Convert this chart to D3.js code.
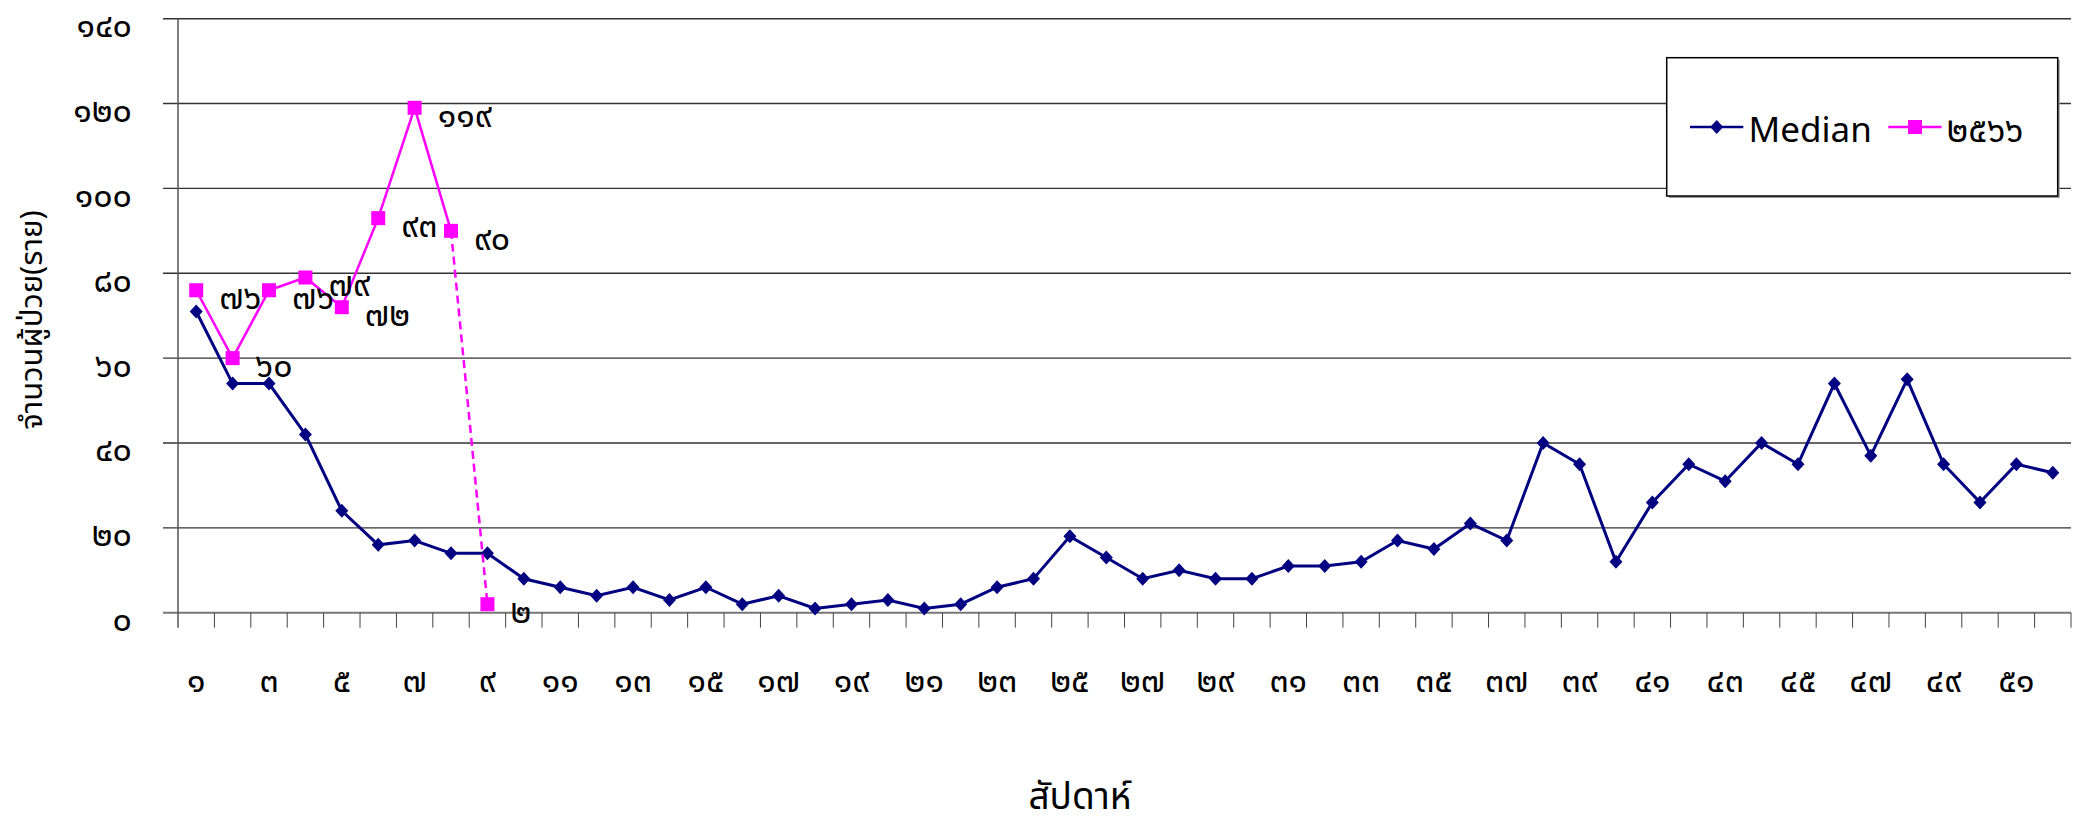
<!DOCTYPE html>
<html>
<head>
<meta charset="utf-8">
<script src="https://cdn.jsdelivr.net/npm/d3@7"></script>
<style>
    body { margin: 0; background: #fff; }
    text { font-family: "Noto Sans Thai", "Noto Sans", "DejaVu Sans", sans-serif; fill: #000; }
</style>
</head>
<body>
<script>
var weeks = [1, 2, 3, 4, 5, 6, 7, 8, 9, 10, 11, 12, 13, 14, 15, 16, 17, 18, 19, 20,
             21, 22, 23, 24, 25, 26, 27, 28, 29, 30, 31, 32, 33, 34, 35, 36, 37, 38, 39, 40,
             41, 42, 43, 44, 45, 46, 47, 48, 49, 50, 51, 52];

var median = [71, 54, 54, 42, 24, 16, 17, 14, 14, 8, 6, 4, 6, 3, 6, 2, 4, 1, 2, 3,
              1, 2, 6, 8, 18, 13, 8, 10, 8, 8, 11, 11, 12, 17, 15, 21, 17, 40, 35, 12,
              26, 35, 31, 40, 35, 54, 37, 55, 35, 26, 35, 33];

var cases2566 = [76, 60, 76, 79, 72, 93, 119, 90, 2];

var yTicks = [0, 20, 40, 60, 80, 100, 120, 140];
var xLabelWeeks = [1, 3, 5, 7, 9, 11, 13, 15, 17, 19, 21, 23, 25, 27, 29, 31, 33, 35, 37, 39, 41, 43, 45, 47, 49, 51];

var seriesNames = ["Median", "๒๕๖๖"];
var yTitle = "จำนวนผู้ป่วย(ราย)";
var xTitle = "สัปดาห์";

var thaiDigits = "๐๑๒๓๔๕๖๗๘๙";
var toThai = function(n) {
    return String(n).replace(/[0-9]/g, d => thaiDigits[+d]);
};

var chart = (function() {
    var w = 2074, h = 827;
    var left = 178, right = 2071, top = 18.7, bottom = 612.7;
    var digitSize = "34px";

    var svg = d3.select("body")
                .append("svg")
                .attr("width", w)
                .attr("height", h);

    var xScale = d3.scaleBand()
                    .domain(weeks)
                    .range([left, right]);

    var yScale = d3.scaleLinear()
                    .domain([0, 140])
                    .range([bottom, top]);

    var cx = d => xScale(d) + xScale.bandwidth() / 2;

    // gridlines
    svg.append("g")
        .selectAll("line")
        .data(yTicks)
        .enter()
        .append("line")
        .attr("x1", left - 15)
        .attr("x2", right)
        .attr("y1", d => yScale(d))
        .attr("y2", d => yScale(d))
        .attr("stroke", d => d == 0 ? "#777" : "#333")
        .attr("stroke-width", d => d == 0 ? 2 : 1.4);

    var yAxis = d3.axisLeft()
                .scale(yScale)
                .tickValues(yTicks)
                .tickSize(0)
                .tickPadding(46)
                .tickFormat(toThai);

    var yg = svg.append("g")
        .attr("transform", "translate(" + left + ",0)")
        .call(yAxis);
    yg.select(".domain").remove();
    yg.selectAll("text")
        .attr("y", 7)
        .style("font-size", digitSize);

    svg.append("line")
        .attr("x1", left)
        .attr("x2", left)
        .attr("y1", top)
        .attr("y2", bottom + 15)
        .attr("stroke", "#555")
        .attr("stroke-width", 1.5);

    // category boundary ticks
    var bounds = weeks.map(d => xScale(d)).concat([right]);
    svg.append("g")
        .selectAll("line")
        .data(bounds.slice(1))
        .enter()
        .append("line")
        .attr("x1", d => d)
        .attr("x2", d => d)
        .attr("y1", bottom)
        .attr("y2", bottom + 15)
        .attr("stroke", "#444")
        .attr("stroke-width", 1);

    svg.append("g")
        .selectAll("text")
        .data(xLabelWeeks)
        .enter()
        .append("text")
        .attr("x", d => cx(d))
        .attr("y", 681)
        .attr("dy", "0.32em")
        .attr("text-anchor", "middle")
        .style("font-size", digitSize)
        .text(toThai);

    // median series
    var medPts = weeks.map((d, i) => [cx(d), yScale(median[i])]);
    svg.append("path")
        .attr("d", d3.line()(medPts))
        .attr("fill", "none")
        .attr("stroke", "#000080")
        .attr("stroke-width", 3);

    var diamond = "M0,-7L6.5,0L0,7L-6.5,0Z";
    svg.append("g")
        .selectAll("path")
        .data(medPts)
        .enter()
        .append("path")
        .attr("transform", d => "translate(" + d[0] + "," + d[1] + ")")
        .attr("d", diamond)
        .attr("fill", "#000080");

    // 2566 series
    var curPts = cases2566.map((v, i) => [cx(weeks[i]), yScale(v)]);
    var n = curPts.length;
    svg.append("path")
        .attr("d", d3.line()(curPts.slice(0, n - 1)))
        .attr("fill", "none")
        .attr("stroke", "#ff00ff")
        .attr("stroke-width", 2.5);

    svg.append("path")
        .attr("d", d3.line()(curPts.slice(n - 2)))
        .attr("fill", "none")
        .attr("stroke", "#ff00ff")
        .attr("stroke-width", 2.5)
        .attr("stroke-dasharray", "8,5");

    svg.append("g")
        .selectAll("rect")
        .data(curPts)
        .enter()
        .append("rect")
        .attr("x", d => d[0] - 7)
        .attr("y", d => d[1] - 7)
        .attr("width", 14)
        .attr("height", 14)
        .attr("fill", "#ff00ff");

    svg.append("g")
        .selectAll("text")
        .data(curPts)
        .enter()
        .append("text")
        .attr("x", d => d[0] + 23)
        .attr("y", d => d[1] + 8)
        .attr("dy", "0.32em")
        .style("font-size", digitSize)
        .text((d, i) => toThai(cases2566[i]));

    // axis titles
    svg.append("text")
        .attr("transform", "translate(42,320) rotate(-90)")
        .attr("text-anchor", "middle")
        .style("font-size", "31px")
        .text(yTitle);

    svg.append("text")
        .attr("x", 1080)
        .attr("y", 809)
        .attr("text-anchor", "middle")
        .style("font-size", "37px")
        .text(xTitle);

    // legend
    var lg = svg.append("g");
    lg.append("rect")
        .attr("x", 1668.7)
        .attr("y", 59.7)
        .attr("width", 391)
        .attr("height", 138.3)
        .attr("fill", "#999");
    lg.append("rect")
        .attr("x", 1666.7)
        .attr("y", 57.7)
        .attr("width", 391)
        .attr("height", 138.3)
        .attr("fill", "#fff")
        .attr("stroke", "#000")
        .attr("stroke-width", 1.5);

    var legendItems = [
        {name: seriesNames[0], x: 1690, color: "#000080", shape: "diamond"},
        {name: seriesNames[1], x: 1888.3, color: "#ff00ff", shape: "square"}
    ];
    legendItems.forEach(function(d) {
        lg.append("line")
            .attr("x1", d.x)
            .attr("x2", d.x + 53.3)
            .attr("y1", 127)
            .attr("y2", 127)
            .attr("stroke", d.color)
            .attr("stroke-width", 2.5);
        if (d.shape == "diamond") {
            lg.append("path")
                .attr("transform", "translate(" + (d.x + 26.7) + ",127)")
                .attr("d", diamond)
                .attr("fill", d.color);
        } else {
            lg.append("rect")
                .attr("x", d.x + 26.7 - 7)
                .attr("y", 120)
                .attr("width", 14)
                .attr("height", 14)
                .attr("fill", d.color);
        }
        lg.append("text")
            .attr("x", d.x + 58.5)
            .attr("y", 141.7)
            .style("font-size", "35px")
            .text(d.name);
    });
})();
</script>
</body>
</html>
